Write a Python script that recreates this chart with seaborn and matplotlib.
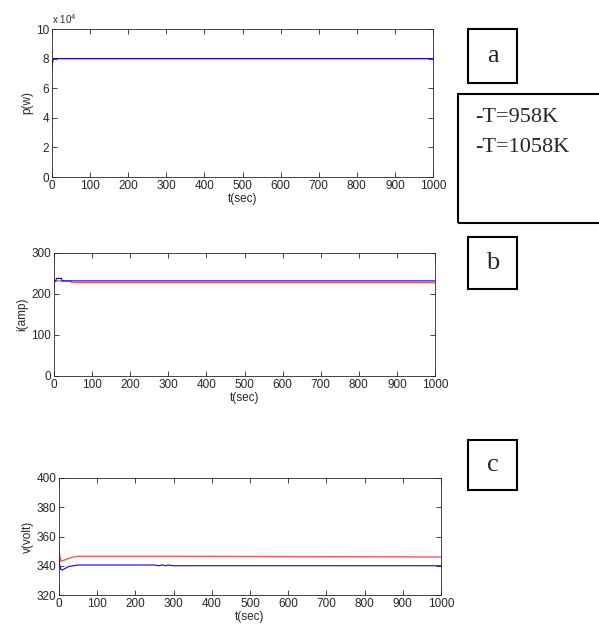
import matplotlib
matplotlib.use("Agg")
import matplotlib.pyplot as plt
from matplotlib.patches import Rectangle
from matplotlib.ticker import FuncFormatter
import seaborn as sns

# values (breakpoints of each trace)
t_p = [0, 2, 3, 1000]
p_958 = [74000, 78000, 80000, 80000]
p_1058 = [74000, 78000, 80000, 80000]

t_i_red = [0, 1, 2, 10, 45, 46, 1000]
i_red = [210, 225, 232, 232, 231, 228, 228]
t_i_blue = [0, 2, 5, 6, 20, 21, 1000]
i_blue = [228, 232, 232, 238, 238, 232, 232]

t_v_red = [0, 2, 5, 10, 20, 30, 50, 300, 1000]
v_red = [350, 347, 343, 343.5, 344.5, 345.5, 346.5, 346.5, 346]
t_v_blue = [0, 2, 5, 8, 15, 25, 50, 250, 262, 270, 278, 286, 300, 1000]
v_blue = [345, 340, 337.5, 337, 338, 339.5, 340.5, 340.5, 340, 340.6, 340, 340.5, 340, 340]

x_ticks = list(range(0, 1001, 100))
legend_lines = ["-T=958K", "-T=1058K"]
panel_tags = ["a", "b", "c"]

sns.set_style("ticks")
plt.rcParams["font.family"] = ["Liberation Sans", "DejaVu Sans"]

fig = plt.figure(figsize=(5.99, 6.27), dpi=100)
W, H = 599, 627


def px_axes(x0, y0, x1, y1):
    return fig.add_axes([x0 / W, 1 - y1 / H, (x1 - x0) / W, (y1 - y0) / H])


def matlab_look(ax, ylim, yticks, ylabel):
    ax.set_xlim(0, 1000)
    ax.set_ylim(*ylim)
    ax.set_xticks(x_ticks)
    ax.set_yticks(yticks)
    ax.tick_params(direction="in", top=True, right=True, labelsize=8.5,
                   length=3.5, width=0.6, pad=2)
    for s in ax.spines.values():
        s.set_visible(True)
        s.set_linewidth(0.6)
    ax.set_xlabel("t(sec)", fontsize=8.5, labelpad=1)
    ax.set_ylabel(ylabel, fontsize=8.5, labelpad=2)
    ax.grid(False)


# panel a
ax_a = px_axes(52, 29, 433, 177)
sns.lineplot(x=t_p, y=p_1058, ax=ax_a, color="#ff5555", lw=0.8)
sns.lineplot(x=t_p, y=p_958, ax=ax_a, color="blue", lw=0.8)
matlab_look(ax_a, (0, 100000), range(0, 100001, 20000), "p(w)")
ax_a.yaxis.set_major_formatter(FuncFormatter(lambda v, _: f"{v / 1e4:g}"))
ax_a.text(0.0, 1.02, "x 10$^4$", transform=ax_a.transAxes, fontsize=7,
          ha="left", va="bottom")

# panel b
ax_b = px_axes(54, 253, 435, 376)
sns.lineplot(x=t_i_red, y=i_red, ax=ax_b, color="#ff5555", lw=1.0)
sns.lineplot(x=t_i_blue, y=i_blue, ax=ax_b, color="blue", lw=0.8)
matlab_look(ax_b, (0, 300), range(0, 301, 100), "i(amp)")

# panel c
ax_c = px_axes(59, 478, 441, 595)
sns.lineplot(x=t_v_red, y=v_red, ax=ax_c, color="#ff5555", lw=1.0)
sns.lineplot(x=t_v_blue, y=v_blue, ax=ax_c, color="blue", lw=0.8)
matlab_look(ax_c, (320, 400), range(320, 401, 20), "v(volt)")


# boxed annotations
def px_box(x0, y0, x1, y1):
    fig.patches.append(Rectangle((x0 / W, 1 - y1 / H), (x1 - x0) / W, (y1 - y0) / H,
                                 transform=fig.transFigure, fill=False,
                                 edgecolor="black", linewidth=1.5))


serif = ["Liberation Serif", "DejaVu Serif"]
for tag, (y0, y1) in zip(panel_tags, [(29, 83), (237, 289), (440, 490)]):
    px_box(468, y0, 517, y1)
    fig.text((468 + 517) / 2 / W, 1 - (y0 + y1) / 2 / H, tag, family=serif,
             fontsize=19, ha="center", va="center")

px_box(458, 94, 602, 223)
for k, line in enumerate(legend_lines):
    fig.text(475 / W, 1 - (118 + 29 * k) / H, line, family=serif,
             fontsize=16, ha="left", va="center")

fig.savefig("out.png", dpi=100)
